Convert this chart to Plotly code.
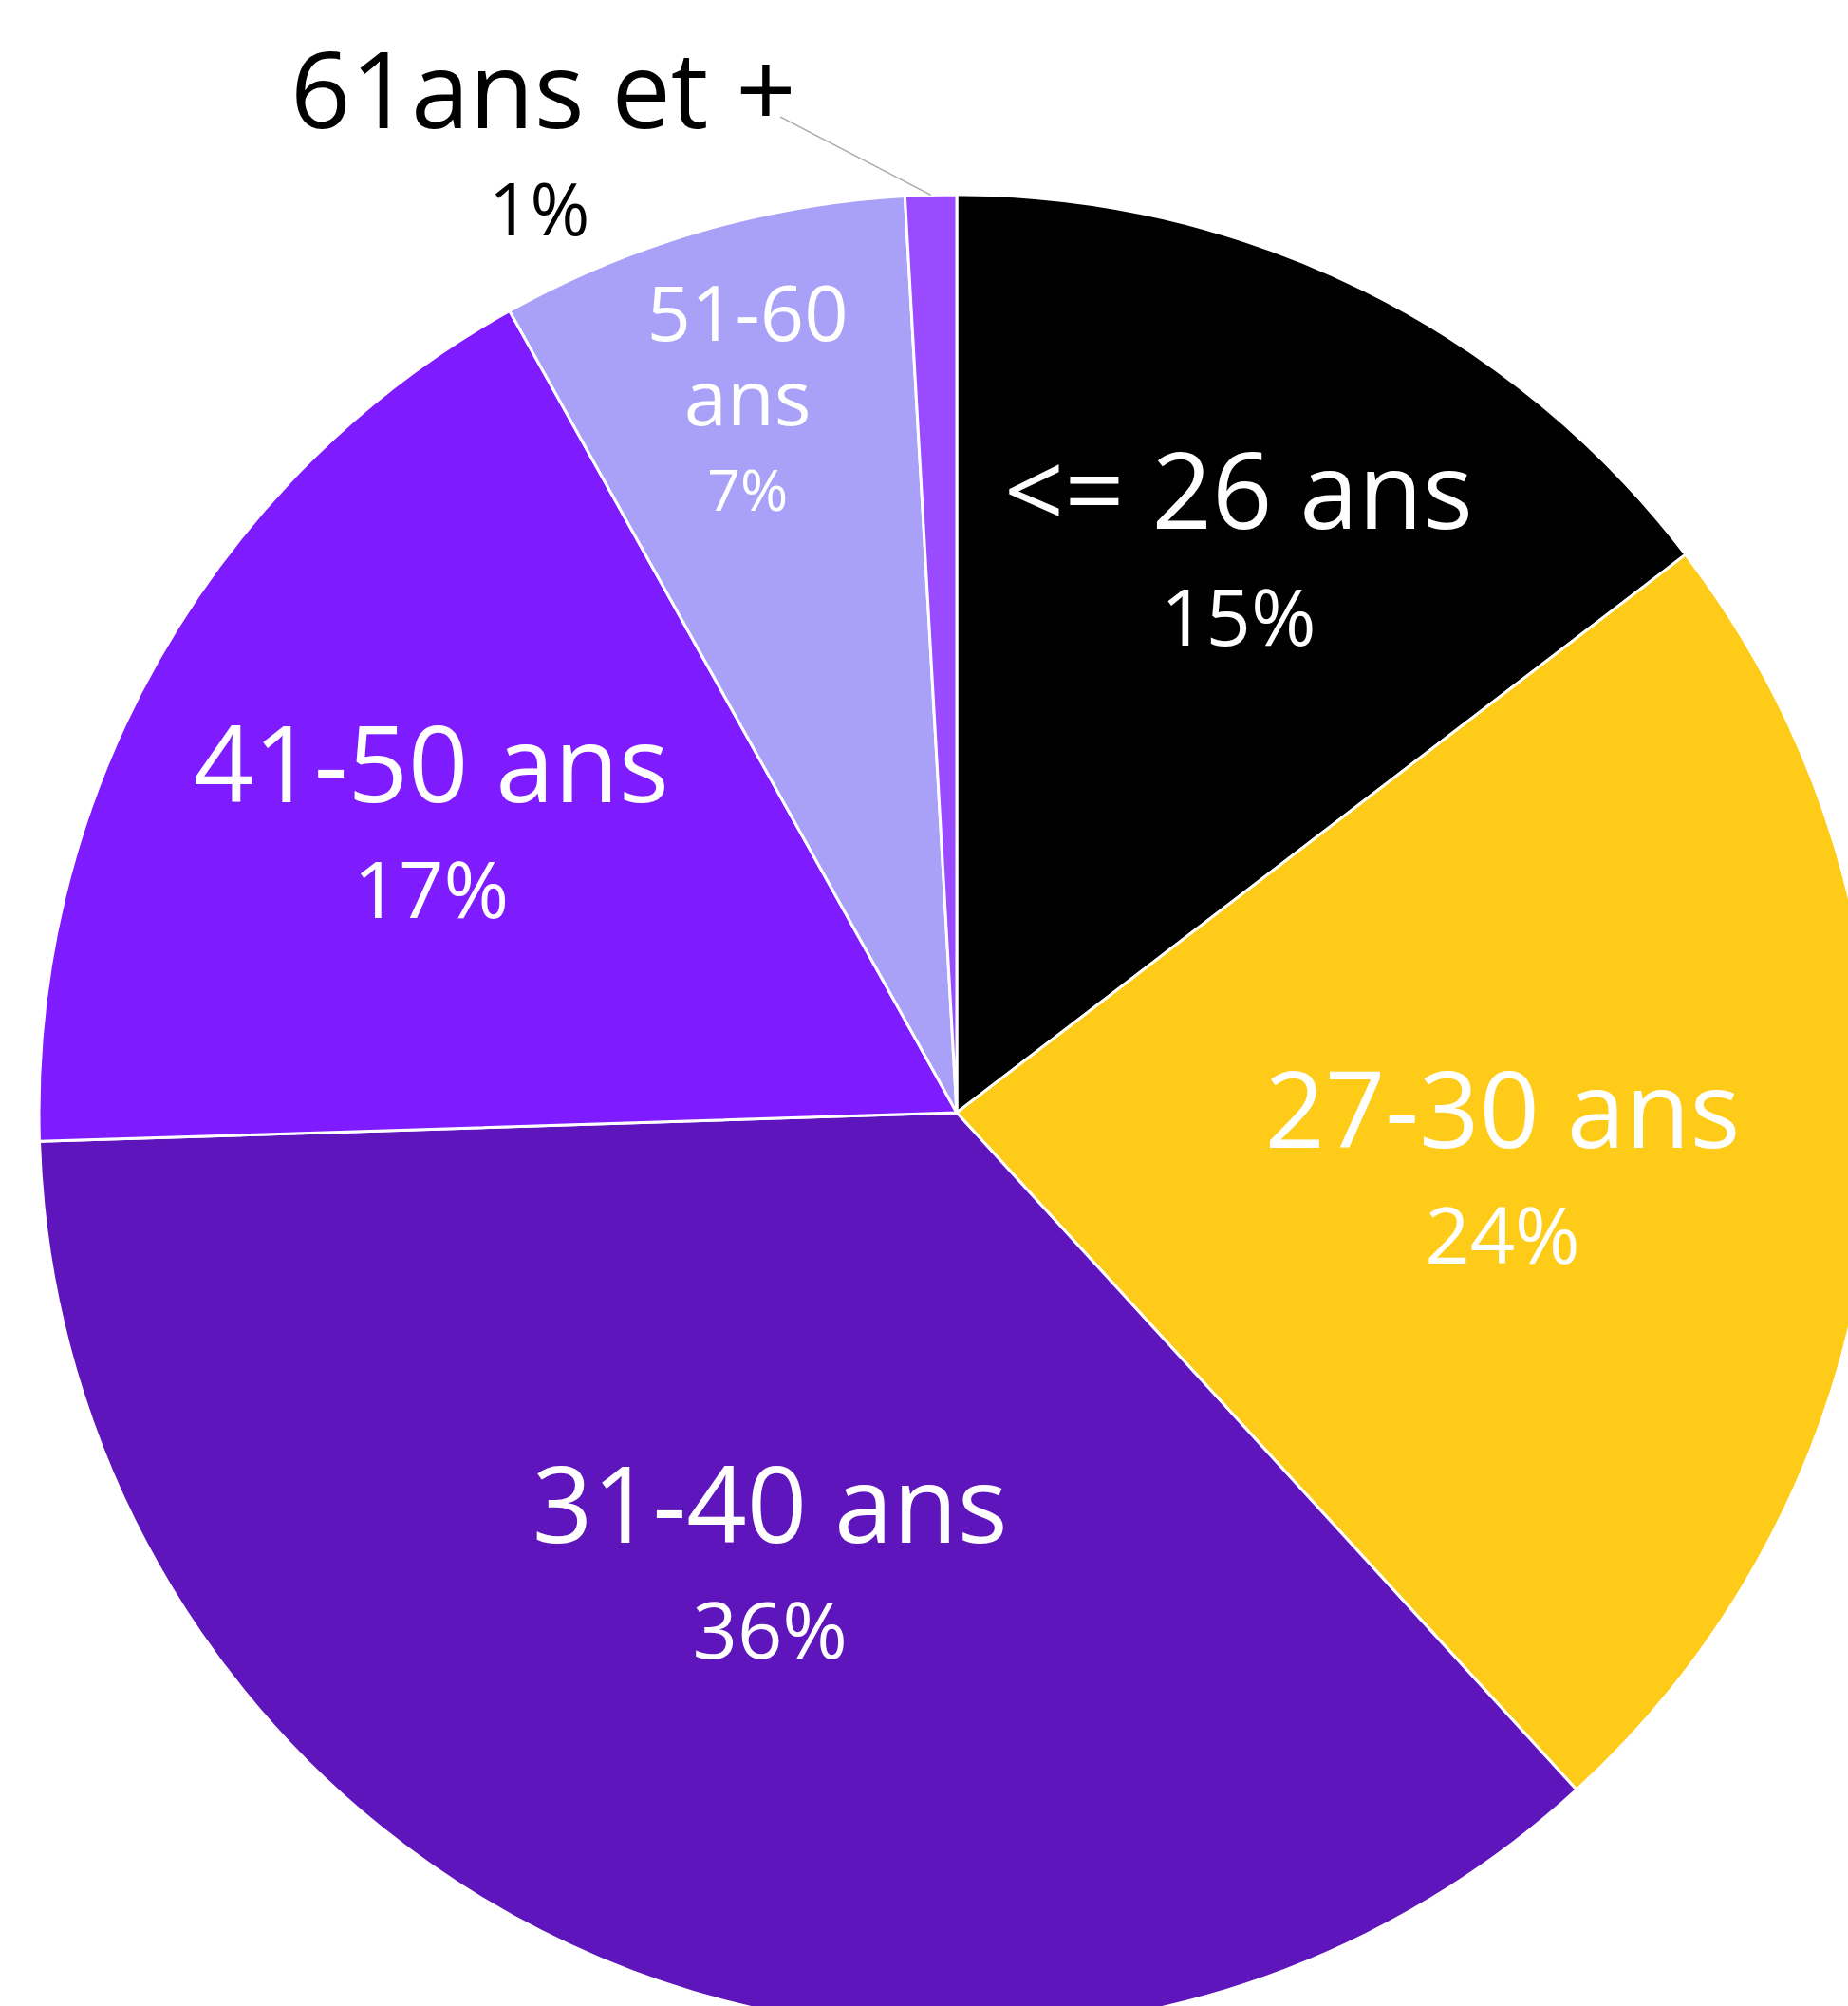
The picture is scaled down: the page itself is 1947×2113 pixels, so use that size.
import math
import plotly.graph_objects as go

# ---- Data ----
categories = ["<= 26 ans", "27-30 ans", "31-40 ans", "41-50 ans", "51-60 ans", "61ans et +"]
display_labels = ["<= 26 ans", "27-30 ans", "31-40 ans", "41-50 ans", "51-60<br>ans", "61ans et +"]
values = [14.6, 23.6, 36.3, 17.4, 7.2, 0.9]
colors = ["#000000", "#FDCB18", "#5E15BC", "#7F1CFF", "#A8A1F7", "#9A4BFF"]
# the smallest slice gets an outside label with a leader line (drawn as an annotation)
text_positions = ["inside", "inside", "inside", "inside", "inside", "none"]

# ---- Layout (pixels) ----
W, H = 2016, 2344          # figure larger than the window: pie is cropped right/bottom
cx, cy, r = 1008, 1172, 967
label_size = 111
pct_size = 83
base_size = 94             # sets the line pitch (1.3 em) between label and percentage
out_pct_size = 76

template = (
    "<span style='font-size:%dpx'>%%{text}</span><br>"
    "<span style='font-size:%dpx'>%%{percent:.0%%}</span>" % (label_size, pct_size)
)

fig = go.Figure(
    go.Pie(
        labels=categories,
        values=values,
        text=display_labels,
        sort=False,
        direction="clockwise",
        rotation=0,
        marker=dict(colors=colors, line=dict(color="#FFFFFF", width=3)),
        texttemplate=template,
        textposition=text_positions,
        insidetextorientation="horizontal",
        insidetextfont=dict(family="Open Sans", size=base_size, color="#FFFFFF"),
        hoverinfo="label+percent",
        showlegend=False,
        domain=dict(x=[(cx - r) / W, (cx + r) / W], y=[0, 1]),
    )
)

# outside label of the last slice, with its leader line pointing at the slice
total = sum(values)
last = len(values) - 1
start_frac = sum(values[:last]) / total
mid_frac = start_frac + values[last] / total / 2
theta = 2 * math.pi * mid_frac  # clockwise from 12 o'clock
tip_x = cx + r * math.sin(theta)
tip_y = cy - r * math.cos(theta)
pct_last = "%d%%" % round(100 * values[last] / total)


def px(x):
    return x / W


def py(y):
    return 1 - y / H


fig.add_annotation(
    xref="paper", yref="paper", x=px(tip_x), y=py(tip_y),
    ax=-160, ay=-83, axref="pixel", ayref="pixel",
    text="", showarrow=True, arrowhead=0, arrowwidth=1.6, arrowcolor="#ABABAB",
)
fig.add_annotation(
    xref="paper", yref="paper", x=px(572), y=py(92),
    text=categories[last], showarrow=False, xanchor="center", yanchor="middle",
    font=dict(family="Open Sans", size=label_size, color="#000000"),
)
fig.add_annotation(
    xref="paper", yref="paper", x=px(568), y=py(218),
    text=pct_last, showarrow=False, xanchor="center", yanchor="middle",
    font=dict(family="Open Sans", size=out_pct_size, color="#000000"),
)

fig.update_layout(
    width=W,
    height=H,
    margin=dict(l=0, r=0, t=0, b=0),
    paper_bgcolor="#FFFFFF",
    plot_bgcolor="#FFFFFF",
    font=dict(family="Open Sans"),
    showlegend=False,
)

fig.write_html(
    "out.html",
    post_script="document.body.style.margin='0';document.body.style.overflow='hidden';document.documentElement.style.overflow='hidden';",
)
